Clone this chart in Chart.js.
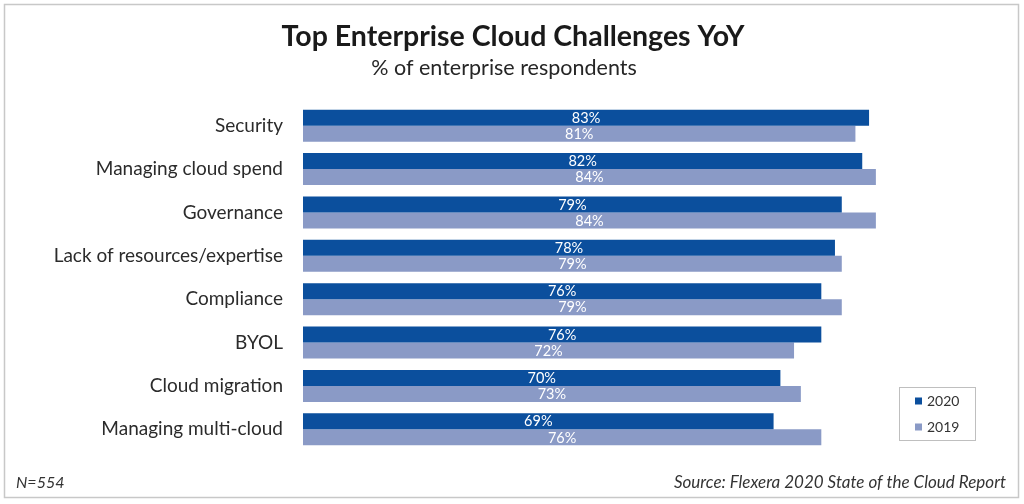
<!DOCTYPE html>
<html lang="en">
<head>
  <meta charset="UTF-8" />
  <title>Top Enterprise Cloud Challenges YoY</title>
  <script src="https://cdn.jsdelivr.net/npm/chart.js"></script>
  <style>
    body { margin: 0; background: #ffffff; }
    #wrap { width: 1024px; height: 504px; position: relative; }
  </style>
</head>
<body>
  <div id="wrap"><canvas id="chart"></canvas></div>

  <script>
    const categories = ['Security', 'Managing cloud spend', 'Governance', 'Lack of resources/expertise',
      'Compliance', 'BYOL', 'Cloud migration', 'Managing multi-cloud'];
    const values2020 = [83, 82, 79, 78, 76, 76, 70, 69];
    const values2019 = [81, 84, 84, 79, 79, 72, 73, 76];
    const seriesNames = ['2020', '2019'];
    const colors = ['#0b4f9d', '#8a9ac6'];

    const font = 'Lato, "Open Sans", sans-serif';

    // frame, titles, footer, legend box and value labels
    const decor = {
      id: 'decor',
      beforeDraw(chart) {
        const c = chart.ctx;
        c.save();
        c.fillStyle = '#ffffff';
        c.fillRect(0, 0, chart.width, chart.height);
        c.strokeStyle = '#c8c8c8';
        c.lineWidth = 1.5;
        c.strokeRect(4.5, 4.5, 1014, 493);
        c.restore();
      },
      afterDatasetsDraw(chart) {
        const c = chart.ctx;
        c.save();
        c.fillStyle = '#ffffff';
        c.font = '14.5px ' + font;
        c.textAlign = 'center';
        c.textBaseline = 'middle';
        chart.data.datasets.forEach((ds, i) => {
          chart.getDatasetMeta(i).data.forEach((bar, j) => {
            c.fillText(ds.data[j] + '%', (bar.x + bar.base) / 2, bar.y + 0.5);
          });
        });
        c.restore();
      },
      afterDraw(chart) {
        const c = chart.ctx;
        c.save();
        c.fillStyle = '#1a1a1a';
        c.textAlign = 'center';
        c.textBaseline = 'middle';
        c.font = 'bold 28.5px ' + font;
        c.fillText('Top Enterprise Cloud Challenges YoY', 513, 37);
        c.fillStyle = '#262626';
        c.font = '21.5px ' + font;
        c.fillText('% of enterprise respondents', 504, 68);

        c.fillStyle = '#333333';
        c.font = 'italic 16px ' + font;
        c.textAlign = 'left';
        c.fillText('N=554', 16, 483);
        c.font = 'italic 17px ' + font;
        c.textAlign = 'right';
        c.fillText('Source: Flexera 2020 State of the Cloud Report', 1006, 483);

        // legend
        c.strokeStyle = '#bfbfbf';
        c.lineWidth = 1;
        c.strokeRect(899.5, 387.5, 76, 53);
        c.font = '14px ' + font;
        c.textAlign = 'left';
        chart.data.datasets.forEach((ds, i) => {
          const y = 401 + i * 26;
          c.fillStyle = ds.backgroundColor;
          c.fillRect(915, y - 3.5, 7, 7);
          c.fillStyle = '#333333';
          c.fillText(ds.label, 927, y + 0.5);
        });
        c.restore();
      }
    };

    new Chart(document.getElementById('chart'), {
      type: 'bar',
      data: {
        labels: categories,
        datasets: [
          { label: seriesNames[0], data: values2020, backgroundColor: colors[0] },
          { label: seriesNames[1], data: values2019, backgroundColor: colors[1] }
        ]
      },
      options: {
        indexAxis: 'y',
        responsive: true,
        maintainAspectRatio: false,
        animation: false,
        layout: { padding: { top: 104, bottom: 53, right: 39, left: 0 } },
        plugins: { legend: { display: false }, tooltip: { enabled: false } },
        datasets: { bar: { categoryPercentage: 0.74, barPercentage: 1.0 } },
        scales: {
          x: { display: false, min: 0, max: 100 },
          y: {
            grid: { display: false, drawTicks: false },
            border: { display: false },
            ticks: { color: '#2b2b2b', font: { size: 19, family: font }, padding: 20 },
            afterFit(scale) { scale.width = 303; }
          }
        }
      },
      plugins: [decor]
    });
  </script>
</body>
</html>
